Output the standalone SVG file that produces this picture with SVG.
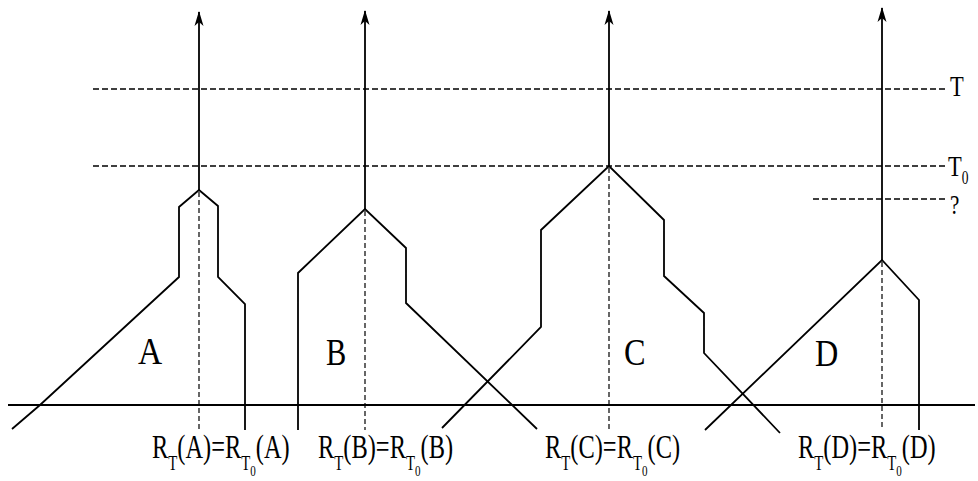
<svg xmlns="http://www.w3.org/2000/svg" width="978" height="481" viewBox="0 0 978 481">
<style>
.ln{fill:none;stroke:#000;stroke-width:1.8;stroke-linejoin:miter}
.ax{fill:none;stroke:#000;stroke-width:1.8}
.dh{fill:none;stroke:#000;stroke-width:1.3;stroke-dasharray:6 3}
.dv{fill:none;stroke:#000;stroke-width:1.2;stroke-dasharray:5 3}
.t{font-family:"Liberation Serif","DejaVu Serif",serif;fill:#000}
.big{font-size:38px}
.lab{font-size:33px}
.sub{font-size:20px}
.sub2{font-size:15px}
</style>
<defs>
<marker id="ar" viewBox="0 0 16 10" refX="15" refY="5" markerWidth="16" markerHeight="10" markerUnits="userSpaceOnUse" orient="auto">
<path d="M16,5 L1,0.5 L5,5 L1,9.5 Z" fill="#000"/>
</marker>
</defs>
<rect width="978" height="481" fill="#fff"/>
<g id="levels">
<line class="dh" x1="93" y1="89" x2="945" y2="89"/>
<line class="dh" x1="93" y1="166" x2="945" y2="166"/>
<line class="dh" x1="813" y1="199" x2="945" y2="199"/>
<text class="t" x="950" y="96" style="font-size:30px" transform="translate(950,0) scale(0.75,1) translate(-950,0)">T</text>
<text class="t" x="948" y="176" style="font-size:30px" transform="translate(948,0) scale(0.75,1) translate(-948,0)">T<tspan style="font-size:18px" dy="8">0</tspan></text>
<text class="t" x="950" y="214" style="font-size:28px" transform="translate(950,0) scale(0.75,1) translate(-950,0)">?</text>
</g>
<g id="baseline">
<line class="ax" x1="8" y1="405" x2="975" y2="405"/>
</g>
<g id="connectors">
<line class="ax" x1="199" y1="190" x2="199" y2="12" marker-end="url(#ar)"/>
<line class="ax" x1="365" y1="209" x2="365" y2="11" marker-end="url(#ar)"/>
<line class="ax" x1="609" y1="166" x2="609" y2="11" marker-end="url(#ar)"/>
<line class="ax" x1="882" y1="260" x2="882" y2="8" marker-end="url(#ar)"/>
<line class="dv" x1="199" y1="192" x2="199" y2="430"/>
<line class="dv" x1="365" y1="211" x2="365" y2="430"/>
<line class="dv" x1="609" y1="168" x2="609" y2="430"/>
<line class="dv" x1="882" y1="262" x2="882" y2="430"/>
</g>
<g id="nodeA">
<polyline class="ln" points="12,429 40,405 179,277 179,207 199,190 218,206 218,277 245,304 245,430"/>
<text class="t big" x="138" y="364" transform="translate(138,0) scale(0.88,1) translate(-138,0)">A</text>
</g>
<g id="nodeB">
<polyline class="ln" points="298,430 298,273 365,209 406,248 406,303 537,429"/>
<text class="t big" x="326" y="365" transform="translate(326,0) scale(0.8,1) translate(-326,0)">B</text>
</g>
<g id="nodeC">
<polyline class="ln" points="442,428 541,327 541,230 609,166 664,220 664,276 704,313 704,353 780,433"/>
<text class="t big" x="624" y="365" transform="translate(624,0) scale(0.85,1) translate(-624,0)">C</text>
</g>
<g id="nodeD">
<polyline class="ln" points="705,430 882,260 919,300 919,430"/>
<text class="t big" x="815" y="366" transform="translate(815,0) scale(0.85,1) translate(-815,0)">D</text>
</g>
<g id="labels">
<text class="t lab" transform="translate(152,458) scale(0.74,1)">R<tspan class="sub" dy="12">T</tspan><tspan dy="-12">(A)=R</tspan><tspan class="sub" dy="12">T</tspan><tspan class="sub2" dy="6">0</tspan><tspan dy="-18">(A)</tspan></text>
<text class="t lab" transform="translate(318,458) scale(0.74,1)">R<tspan class="sub" dy="12">T</tspan><tspan dy="-12">(B)=R</tspan><tspan class="sub" dy="12">T</tspan><tspan class="sub2" dy="6">0</tspan><tspan dy="-18">(B)</tspan></text>
<text class="t lab" transform="translate(545,458) scale(0.74,1)">R<tspan class="sub" dy="12">T</tspan><tspan dy="-12">(C)=R</tspan><tspan class="sub" dy="12">T</tspan><tspan class="sub2" dy="6">0</tspan><tspan dy="-18">(C)</tspan></text>
<text class="t lab" transform="translate(798,458) scale(0.74,1)">R<tspan class="sub" dy="12">T</tspan><tspan dy="-12">(D)=R</tspan><tspan class="sub" dy="12">T</tspan><tspan class="sub2" dy="6">0</tspan><tspan dy="-18">(D)</tspan></text>
</g>
</svg>
